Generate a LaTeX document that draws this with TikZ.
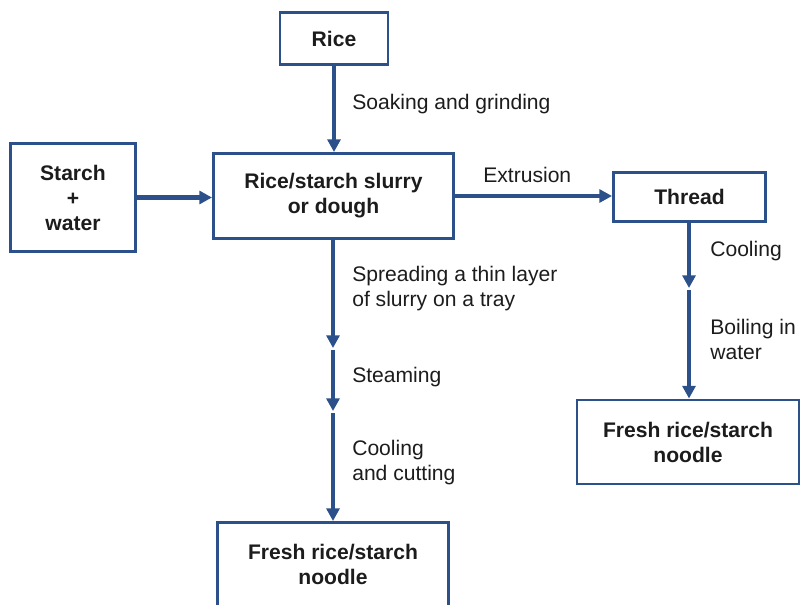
\documentclass[tikz,border=0pt]{standalone}
\usepackage{fontspec}
\setmainfont{Liberation Sans}
\usepackage{xcolor}
\usetikzlibrary{arrows.meta}
\definecolor{flowblue}{RGB}{44,80,138}
\definecolor{txtgray}{RGB}{28,28,28}

\begin{document}
\begin{tikzpicture}[x=0.025cm,y=-0.025cm,
box/.style={draw=flowblue,line width=2.1pt,fill=white,align=center,inner sep=0pt,
  text=txtgray,font=\fontsize{15}{17.8}\selectfont\bfseries},
lab/.style={anchor=west,align=left,inner sep=0pt,text=txtgray,
  font=\fontsize{15}{17.8}\selectfont},
flow/.style={draw=flowblue,line width=3.2pt,-{Triangle[length=9pt,width=9.2pt]}}]
\clip(0,0) rectangle (800,604);
% boxes
\node[box,minimum width=2.7cm,minimum height=1.3cm](rice) at (334,38.5){Rice};
\node[box,minimum width=3.125cm,minimum height=2.7cm](starch) at (73,197.5){Starch\\+\\water};
\node[box,minimum width=6cm,minimum height=2.125cm](slurry) at (333.5,196){Rice/starch slurry\\or dough};
\node[box,minimum width=3.8cm,minimum height=1.225cm](thread) at (689.5,197){Thread};
\node[box,minimum width=5.55cm,minimum height=2.1cm](freshr) at (688,442){Fresh rice/starch\\noodle};
\node[box,minimum width=5.75cm,minimum height=2.1cm](freshb) at (333,564.5){Fresh rice/starch\\noodle};
% break points of the chains
\coordinate(c1) at (333,348);
\coordinate(c2) at (333,411);
\coordinate(c3) at (689,288);
% arrows
\draw[flow](rice.south)--(rice.south |- slurry.north);
\draw[flow](starch.east)--(starch.east -| slurry.west);
\draw[flow](slurry.east)--(slurry.east -| thread.west);
\draw[flow](slurry.south -| c1)--(c1);
\draw[flow,shorten <=1.5pt](c1)--(c2);
\draw[flow,shorten <=1.5pt](c2)--(c2 |- freshb.north);
\draw[flow](thread.south -| c3)--(c3);
\draw[flow,shorten <=1.5pt](c3)--(c3 |- freshr.north);
% labels
\node[lab](soak) at (352,104){Soaking and grinding};
\node[lab](extr) at (483,175){Extrusion};
\node[lab](spread) at (352,288.5){Spreading a thin layer\\of slurry on a tray};
\node[lab](steam) at (352,377){Steaming};
\node[lab](cut) at (352,462.5){Cooling\\and cutting};
\node[lab](cool) at (710,251){Cooling};
\node[lab](boil) at (710,339.5){Boiling in\\water};
\end{tikzpicture}
\end{document}
